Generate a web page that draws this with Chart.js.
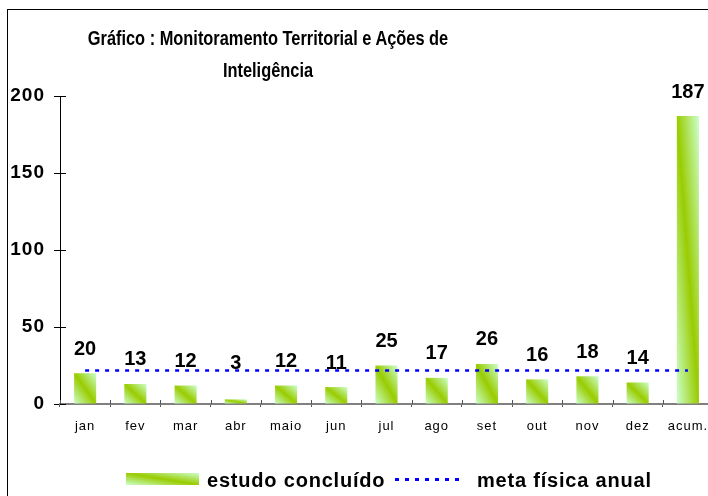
<!DOCTYPE html>
<html>
<head>
<meta charset="utf-8">
<script src="https://cdn.jsdelivr.net/npm/chart.js@4"></script>
<style>
  html, body { margin: 0; padding: 0; overflow: hidden; background: #fff; font-family: "Liberation Sans", Arial, sans-serif; }
  #wrap { position: relative; width: 708px; height: 496px; overflow: hidden; }
  #frameTop { position: absolute; left: 7px; top: 9px; width: 760px; height: 1px; background: #000; }
  #frameLeft { position: absolute; left: 7px; top: 9px; width: 1px; height: 600px; background: #000; }
  #chart { position: absolute; left: 0; top: 0; }
  #title { position: absolute; left: 18px; top: 22px; width: 500px; text-align: center;
           font-weight: bold; font-size: 21px; line-height: 32px; color: #000;
           transform: scaleX(0.78); transform-origin: 250px 0; }
  .leg { position: absolute; font-weight: bold; font-size: 20px; letter-spacing: 0.8px; color: #000; top: 468px; line-height: 24px; }
  #symBar { position: absolute; left: 126px; top: 473px; width: 73px; height: 12px;
            background: linear-gradient(to top right, #ccffcc, #99cc00 50%, #ccffcc); }
  #symLine { position: absolute; left: 395px; top: 478px; width: 70px; height: 2.5px;
             background: repeating-linear-gradient(to right, #0000ff 0 4px, transparent 4px 10px); }
</style>
</head>
<body>
<div id="wrap">
  <canvas id="chart" width="720" height="496"></canvas>
  <div id="frameTop"></div>
  <div id="frameLeft"></div>
  <div id="title">Gráfico : Monitoramento Territorial e Ações de<br>Inteligência</div>
  <div id="symBar"></div>
  <div class="leg" style="left:207px">estudo concluído</div>
  <div id="symLine"></div>
  <div class="leg" style="left:477px">meta física anual</div>
</div>
<script>
// categories (months + accumulated)
const meses = ["jan", "fev", "mar", "abr", "maio", "jun", "jul", "ago", "set", "out", "nov", "dez", "acum."];

// studies completed per month
const estudoConcluido = [20, 13, 12, 3, 12, 11, 25, 17, 26, 16, 18, 14, 187];

// annual physical goal (monthly level)
const metaFisica = [21.7, 21.7, 21.7, 21.7, 21.7, 21.7, 21.7, 21.7, 21.7, 21.7, 21.7, 21.7, 21.7];

// y tick settings
const yMax = 200;
const yStep = 50;

const barPct = 0.44;
const verdeClaro = "#ccffcc";
const verdeEscuro = "#99cc00";
const fonte = "'Liberation Sans', Arial, sans-serif";

// diagonal gradient in the bar's own box (dark band from top-left to bottom-right)
function barGradient (c) {
    const chart = c.chart;
    if (!chart.chartArea || c.type !== 'data') { return verdeEscuro; }
    const xs = chart.scales.x, ys = chart.scales.y;
    const cx = xs.getPixelForValue(c.dataIndex);
    const w = xs.width / meses.length * barPct;
    const left = cx - w / 2;
    const bot = ys.getPixelForValue(0);
    const h = Math.max(1, bot - ys.getPixelForValue(c.raw));
    const k = 2 * w * h / (w * w + h * h);
    const g = chart.ctx.createLinearGradient(left, bot, left + h * k, bot - w * k);
    g.addColorStop(0, verdeClaro);
    g.addColorStop(0.5, verdeEscuro);
    g.addColorStop(1, verdeClaro);
    return g;
}

// slightly spaced axis text, like the original
const spacing = {
    id: 'spacing',
    beforeDraw (chart) { chart.ctx.letterSpacing = "1px"; },
    afterDraw (chart) { chart.ctx.letterSpacing = "0px"; }
};

// value labels above the bars
const valueLabels = {
    id: 'valueLabels',
    afterDatasetsDraw (chart) {
        const ctx = chart.ctx;
        const meta = chart.getDatasetMeta(1);
        const base = chart.scales.y.getPixelForValue(0);
        ctx.save();
        ctx.letterSpacing = "0px";
        ctx.font = "bold 20px " + fonte;
        ctx.fillStyle = "#000";
        ctx.textAlign = "center";
        ctx.textBaseline = "middle";
        meta.data.forEach((bar, i) => {
            ctx.fillText(String(estudoConcluido[i]), bar.x, Math.min(bar.y - 24, base - 41)); });
        ctx.restore();
    }
};

// tick marks that cross the axes (inner half)
const innerTicks = {
    id: 'innerTicks',
    afterDraw (chart) {
        const ctx = chart.ctx, a = chart.chartArea;
        const xs = chart.scales.x, ys = chart.scales.y;
        ctx.save();
        ctx.lineWidth = 1;
        ctx.strokeStyle = "#000";
        ys.ticks.forEach((t, i) => {
            const y = Math.round(ys.getPixelForTick(i)) + 0.5;
            ctx.beginPath(); ctx.moveTo(a.left, y); ctx.lineTo(a.left + 6, y); ctx.stroke(); });
        ctx.strokeStyle = "#555";
        const step = xs.width / meses.length;
        for (let i = 0; i <= meses.length; i++) {
            const x = Math.round(a.left + i * step) + 0.5;
            ctx.beginPath(); ctx.moveTo(x, a.bottom); ctx.lineTo(x, a.bottom - 4); ctx.stroke(); }
        ctx.restore();
    }
};

new Chart("chart", {
    data: {
        labels: meses,
        datasets: [
            { type: 'line', label: "meta física anual", data: metaFisica,
              borderColor: "#0000ff", borderWidth: 2.5, borderDash: [4, 6],
              pointRadius: 0, fill: false, order: 0 },
            { type: 'bar', label: "estudo concluído", data: estudoConcluido,
              backgroundColor: barGradient, borderWidth: 0,
              barPercentage: barPct, categoryPercentage: 1, order: 1 }
        ]
    },
    options: {
        responsive: false,
        animation: false,
        devicePixelRatio: 1,
        layout: { padding: { top: 96, right: 7, left: 0, bottom: 0 } },
        plugins: { legend: { display: false }, title: { display: false }, tooltip: { enabled: false } },
        scales: {
            x: {
                offset: true,
                grid: { offset: true, drawOnChartArea: false, tickLength: 3, color: "#555" },
                border: { color: "#808080", width: 2 },
                ticks: { color: "#000", padding: 12, maxRotation: 0, autoSkip: false,
                         font: { family: fonte, size: 13 } },
                afterFit (s) { s.height = 92; }
            },
            y: {
                min: 0, max: yMax,
                grid: { drawOnChartArea: false, tickLength: 6, color: "#000" },
                border: { color: "#000", width: 1 },
                ticks: { stepSize: yStep, color: "#000", padding: 9,
                         font: { family: fonte, size: 19, weight: 'bold' } },
                afterFit (s) { s.width = 60; }
            }
        }
    },
    plugins: [spacing, valueLabels, innerTicks]
});
</script>
</body>
</html>
